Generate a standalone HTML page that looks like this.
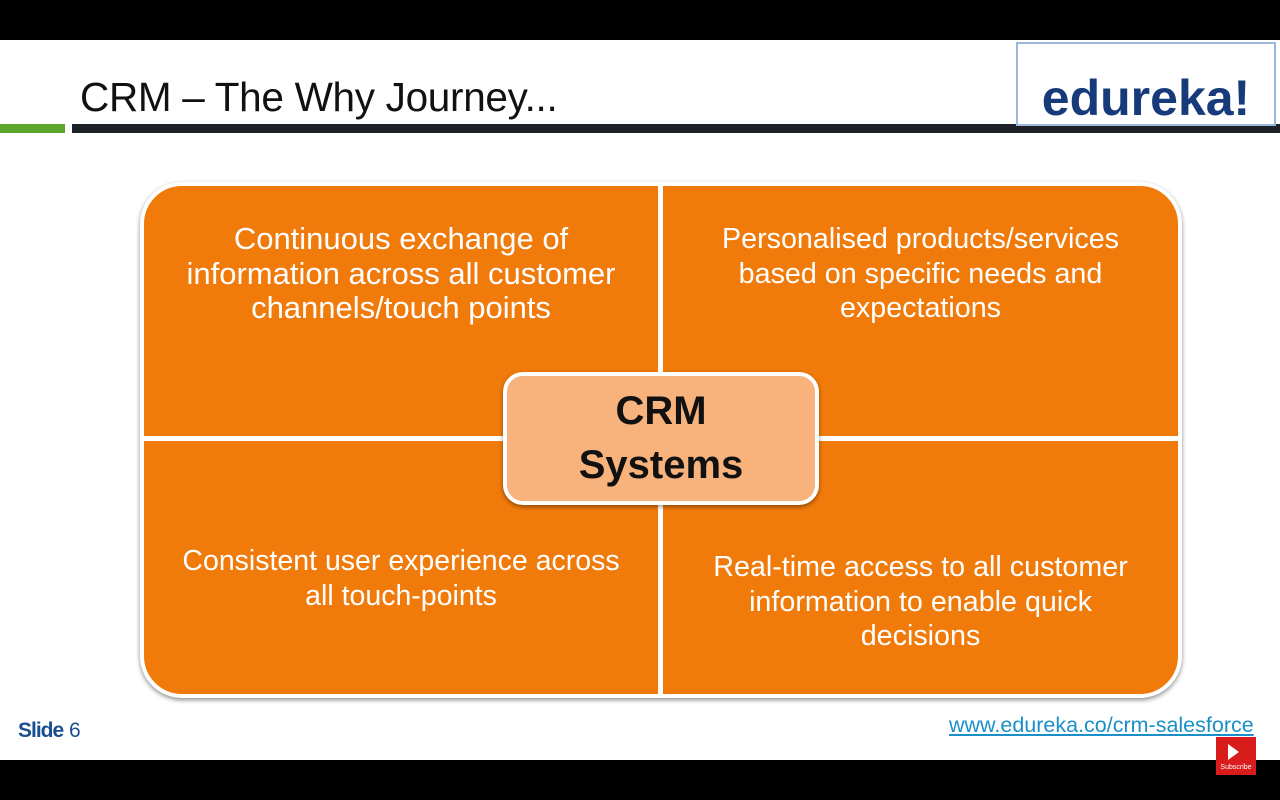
<!DOCTYPE html>
<html><head><meta charset="utf-8"><style>
body{margin:0;width:1280px;height:800px;background:#fff;position:relative;overflow:hidden;font-family:"Liberation Sans",sans-serif}
.a{position:absolute}
.t{position:absolute;color:#fff;font-size:28.7px;text-align:center;line-height:34.5px;white-space:nowrap}
</style></head><body>
<div class="a" style="left:0;top:0;width:1280px;height:40px;background:#000"></div>
<div class="a" style="left:0;top:760px;width:1280px;height:40px;background:#000"></div>
<div class="a" style="left:80px;top:74px;font-size:40.5px;color:#111;letter-spacing:-0.3px">CRM – The Why Journey...</div>
<div class="a" style="left:0;top:124px;width:65px;height:9px;background:#5aa62a"></div>
<div class="a" style="left:72px;top:124px;width:1208px;height:9px;background:#1e2226"></div>
<div class="a" style="left:1016px;top:42px;width:256px;height:80px;border:2px solid #9bb8dc;background:#fff"></div>
<div class="a" style="left:1016px;top:66px;width:260px;text-align:center;font-size:50px;font-weight:bold;color:#173b7a;line-height:64px">edureka!</div>
<div class="a" style="left:140px;top:182px;width:1034px;height:508px;background:#f07a0a;border:4px solid #fff;border-radius:42px;box-shadow:0 2px 5px rgba(0,0,0,.45)"></div>
<div class="a" style="left:658px;top:182px;width:5px;height:516px;background:#fff"></div>
<div class="a" style="left:144px;top:436px;width:1034px;height:5px;background:#fff"></div>
<div class="t" style="left:144px;width:514px;top:222px;font-size:31px">Continuous exchange of<br>information across all customer<br>channels/touch points</div>
<div class="t" style="left:663px;width:515px;top:222px">Personalised products/services<br>based on specific needs and<br>expectations</div>
<div class="t" style="left:144px;width:514px;top:544px;font-size:28.5px">Consistent user experience across<br>all touch-points</div>
<div class="t" style="left:663px;width:515px;top:550px">Real-time access to all customer<br>information to enable quick<br>decisions</div>
<div class="a" style="left:503px;top:372px;width:308px;height:125px;background:#f8b27c;border:4px solid #fff;border-radius:20px;box-shadow:0 2px 4px rgba(0,0,0,.4)"></div>
<div class="a" style="left:503px;top:384px;width:316px;text-align:center;font-size:40px;font-weight:bold;color:#111;line-height:54px">CRM<br>Systems</div>
<div class="a" style="left:18px;top:719px;font-size:21px;color:#1a4f8f"><b style="letter-spacing:-1px">Slide</b> 6</div>
<div class="a" style="left:949px;top:713px;font-size:21.5px;color:#1a8fc8;text-decoration:underline">www.edureka.co/crm-salesforce</div>
<div class="a" style="left:1216px;top:737px;width:40px;height:38px;background:#d81b1b"></div>
<div class="a" style="left:1228px;top:744px;width:0;height:0;border-left:11px solid #fff;border-top:8px solid transparent;border-bottom:8px solid transparent"></div>
<div class="a" style="left:1216px;top:764px;width:40px;text-align:center;font-size:7px;color:#fff">Subscribe</div>
</body></html>
